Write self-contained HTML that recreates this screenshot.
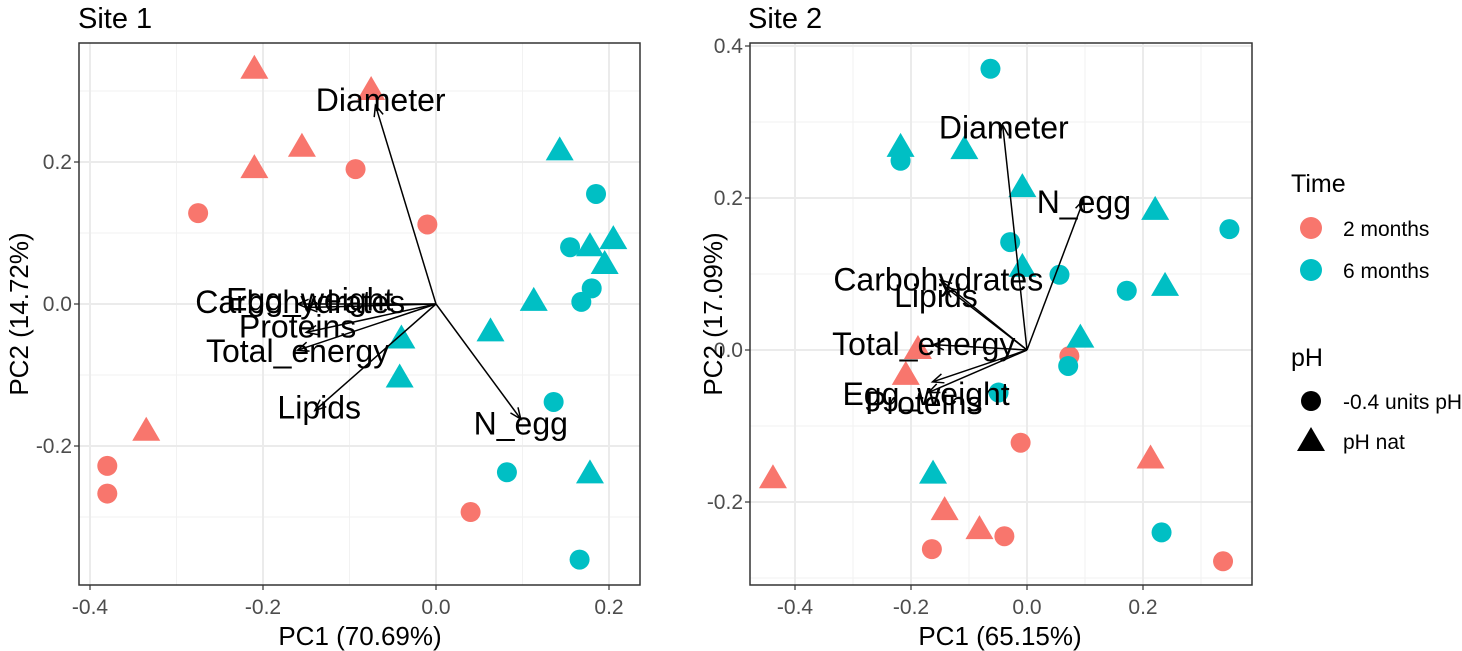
<!DOCTYPE html>
<html><head><meta charset="utf-8"><style>
html,body{margin:0;padding:0;background:#fff;}
svg{display:block;font-family:"Liberation Sans",Arial,sans-serif;}
</style></head><body>
<svg id="chart" width="1462" height="651" viewBox="0 0 1462 651">
<g id="panels"></g>
<text x="78" y="28" font-size="29" fill="#000">Site 1</text>
<text x="748" y="28" font-size="29" fill="#000">Site 2</text>
<text x="360" y="645" font-size="26" text-anchor="middle" fill="#000">PC1 (70.69%)</text>
<text transform="translate(28,314) rotate(-90)" font-size="26" text-anchor="middle" fill="#000">PC2 (14.72%)</text>
<text x="1000" y="645" font-size="26" text-anchor="middle" fill="#000">PC1 (65.15%)</text>
<text transform="translate(722,314) rotate(-90)" font-size="26" text-anchor="middle" fill="#000">PC2 (17.09%)</text>
<g>
<text x="1291" y="192" font-size="25" fill="#000">Time</text>
<circle cx="1311" cy="228" r="11" fill="#F8766D"/>
<text x="1343" y="236" font-size="21" fill="#000">2 months</text>
<circle cx="1311" cy="270" r="11" fill="#00BFC4"/>
<text x="1343" y="278" font-size="21" fill="#000">6 months</text>
<text x="1291" y="366" font-size="25" fill="#000">pH</text>
<circle cx="1311" cy="401" r="10" fill="#000"/>
<text x="1343" y="409" font-size="21" fill="#000">-0.4 units pH</text>
<polygon points="1311,427 1325,451 1297,451" fill="#000"/>
<text x="1343" y="449" font-size="21" fill="#000">pH nat</text>
</g>
</svg>
<script>
// ---------- Site 1 data ----------
const s1RedTriX = [-0.21,-0.075,-0.155,-0.21,-0.335];
const s1RedTriY = [0.33,0.30,0.22,0.19,-0.18];
const s1RedCirX = [-0.275,-0.093,-0.01,-0.38,-0.38,0.04];
const s1RedCirY = [0.128,0.19,0.112,-0.228,-0.267,-0.293];
const s1CyTriX = [0.143,0.178,0.205,0.195,0.113,0.063,-0.04,-0.042,0.178];
const s1CyTriY = [0.215,0.08,0.09,0.055,0.003,-0.04,-0.05,-0.105,-0.24];
const s1CyCirX = [0.185,0.155,0.18,0.168,0.136,0.082,0.166];
const s1CyCirY = [0.155,0.08,0.022,0.003,-0.138,-0.237,-0.36];
const s1VarNames = ["Diameter","N_egg","Lipids","Total_energy","Proteins","Egg_weight","Carbohydrates"];
const s1ArrowX = [-0.07,0.098,-0.14,-0.16,-0.15,-0.15,-0.16];
const s1ArrowY = [0.28,-0.162,-0.15,-0.065,-0.04,-0.005,0.0];
const s1LabelX = [-0.064,0.098,-0.135,-0.160,-0.160,-0.146,-0.157];
const s1LabelY = [0.287,-0.168,-0.146,-0.066,-0.032,0.006,0.003];
const s1XTicks = [-0.4,-0.2,0.0,0.2];
const s1XTickLabels = ["-0.4","-0.2","0.0","0.2"];
const s1XMinor = [-0.3,-0.1,0.1];
const s1YTicks = [-0.2,0.0,0.2];
const s1YTickLabels = ["-0.2","0.0","0.2"];
const s1YMinor = [-0.3,-0.1,0.1,0.3];
// ---------- Site 2 data ----------
const s2RedTriX = [-0.188,-0.209,-0.438,-0.142,-0.082,0.213];
const s2RedTriY = [0.0,-0.034,-0.170,-0.212,-0.237,-0.144];
const s2RedCirX = [0.073,-0.011,-0.164,-0.039,0.338];
const s2RedCirY = [-0.008,-0.122,-0.262,-0.245,-0.278];
const s2CyTriX = [-0.218,-0.108,-0.008,0.221,-0.008,0.238,0.092,-0.162];
const s2CyTriY = [0.266,0.263,0.213,0.183,0.108,0.083,0.015,-0.164];
const s2CyCirX = [-0.063,-0.218,-0.029,0.056,0.172,0.349,0.071,-0.049,0.232];
const s2CyCirY = [0.37,0.249,0.142,0.099,0.078,0.159,-0.021,-0.056,-0.24];
const s2VarNames = ["Diameter","N_egg","Carbohydrates","Lipids","Total_energy","Egg_weight","Proteins"];
const s2ArrowX = [-0.042,0.098,-0.149,-0.141,-0.162,-0.163,-0.170];
const s2ArrowY = [0.296,0.198,0.092,0.083,0.007,-0.042,-0.056];
const s2LabelX = [-0.040,0.098,-0.153,-0.157,-0.178,-0.174,-0.178];
const s2LabelY = [0.293,0.195,0.093,0.071,0.008,-0.058,-0.070];
const s2XTicks = [-0.4,-0.2,0.0,0.2];
const s2XTickLabels = ["-0.4","-0.2","0.0","0.2"];
const s2XMinor = [-0.3,-0.1,0.1,0.3];
const s2YTicks = [-0.2,0.0,0.2,0.4];
const s2YTickLabels = ["-0.2","0.0","0.2","0.4"];
const s2YMinor = [-0.3,-0.1,0.1,0.3];

const NS = "http://www.w3.org/2000/svg";
const host = document.getElementById('panels');
const RED = "#F8766D", CY = "#00BFC4";
function mk(tag, attrs, parent){const e=document.createElementNS(NS,tag);for(const k in attrs)e.setAttribute(k,attrs[k]);(parent||host).appendChild(e);return e;}

function panel(cfg){
  const g = mk('g',{});
  
  
  const sx = v => cfg.x0 + v*cfg.kx;
  const sy = v => cfg.y0 - v*cfg.ky;
  const bg = mk('rect',{x:cfg.L,y:cfg.T,width:cfg.R-cfg.L,height:cfg.B-cfg.T,fill:'#fff'},g);
  
  
  cfg.xMinor.forEach(v=>{const l=mk('line',{x1:sx(v),x2:sx(v),y1:cfg.T,y2:cfg.B,stroke:'#f2f2f2','stroke-width':1},g);
    
    });
  cfg.yMinor.forEach(v=>{const l=mk('line',{x1:cfg.L,x2:cfg.R,y1:sy(v),y2:sy(v),stroke:'#f2f2f2','stroke-width':1},g);
    
    });
  cfg.xTicks.forEach((v,i)=>{const l=mk('line',{x1:sx(v),x2:sx(v),y1:cfg.T,y2:cfg.B,stroke:'#ebebeb','stroke-width':2},g);
    
    
    const t=mk('line',{x1:sx(v),x2:sx(v),y1:cfg.B,y2:cfg.B+5,stroke:'#333','stroke-width':1.2},g);
    
    
    const tx=mk('text',{x:sx(v),y:cfg.B+29,'font-size':21,'text-anchor':'middle',fill:'#4d4d4d'},g);tx.textContent=cfg.xTickLabels[i];
    
    });
  cfg.yTicks.forEach((v,i)=>{const l=mk('line',{x1:cfg.L,x2:cfg.R,y1:sy(v),y2:sy(v),stroke:'#ebebeb','stroke-width':2},g);
    
    
    const t=mk('line',{x1:cfg.L-5,x2:cfg.L,y1:sy(v),y2:sy(v),stroke:'#333','stroke-width':1.2},g);
    
    
    const tx=mk('text',{x:cfg.L-7,y:sy(v)+7,'font-size':21,'text-anchor':'end',fill:'#4d4d4d'},g);tx.textContent=cfg.yTickLabels[i];
    
    });
  function circles(xs,ys,col,nm){xs.forEach((x,i)=>{const c=mk('circle',{cx:sx(x),cy:sy(ys[i]),r:10,fill:col},g);
    
    });}
  function tris(xs,ys,col,nm){xs.forEach((x,i)=>{const X=sx(x),Y=sy(ys[i]);const p=mk('polygon',{points:`${X},${Y-15} ${X+14},${Y+9} ${X-14},${Y+9}`,fill:col},g);
    
    });}
  circles(cfg.rcx,cfg.rcy,RED,'point-2-months-low-ph');
  tris(cfg.rtx,cfg.rty,RED,'point-2-months-ph-nat');
  circles(cfg.ccx,cfg.ccy,CY,'point-6-months-low-ph');
  tris(cfg.ctx,cfg.cty,CY,'point-6-months-ph-nat');
  cfg.ax.forEach((v,i)=>{const x2=sx(v),y2=sy(cfg.ay[i]),x1=sx(0),y1=sy(0);
    const l=mk('line',{x1,y1,x2,y2,stroke:'#000','stroke-width':1.5},g);
    
    
    const a=Math.atan2(y2-y1,x2-x1),h=12;
    const hp=mk('polyline',{points:`${x2-h*Math.cos(a-0.4)},${y2-h*Math.sin(a-0.4)} ${x2},${y2} ${x2-h*Math.cos(a+0.4)},${y2-h*Math.sin(a+0.4)}`,fill:'none',stroke:'#000','stroke-width':1.5},g);
    
    });
  cfg.names.forEach((n,i)=>{const t=mk('text',{x:sx(cfg.lx[i]),y:sy(cfg.ly[i])+11,'font-size':32,'text-anchor':'middle',fill:'#000'},g);t.textContent=n;
    
    });
  const fr=mk('rect',{x:cfg.L,y:cfg.T,width:cfg.R-cfg.L,height:cfg.B-cfg.T,fill:'none',stroke:'#333','stroke-width':1.5},g);
  
  
}
panel({name:'site-1-panel',L:79,R:640,T:43,B:585,x0:436,kx:865,y0:304,ky:710,
  xTicks:s1XTicks,xTickLabels:s1XTickLabels,xMinor:s1XMinor,yTicks:s1YTicks,yTickLabels:s1YTickLabels,yMinor:s1YMinor,
  rtx:s1RedTriX,rty:s1RedTriY,rcx:s1RedCirX,rcy:s1RedCirY,ctx:s1CyTriX,cty:s1CyTriY,ccx:s1CyCirX,ccy:s1CyCirY,
  names:s1VarNames,ax:s1ArrowX,ay:s1ArrowY,lx:s1LabelX,ly:s1LabelY});
panel({name:'site-2-panel',L:750,R:1252,T:43,B:585,x0:1027,kx:580,y0:350,ky:760,
  xTicks:s2XTicks,xTickLabels:s2XTickLabels,xMinor:s2XMinor,yTicks:s2YTicks,yTickLabels:s2YTickLabels,yMinor:s2YMinor,
  rtx:s2RedTriX,rty:s2RedTriY,rcx:s2RedCirX,rcy:s2RedCirY,ctx:s2CyTriX,cty:s2CyTriY,ccx:s2CyCirX,ccy:s2CyCirY,
  names:s2VarNames,ax:s2ArrowX,ay:s2ArrowY,lx:s2LabelX,ly:s2LabelY});
</script>
</body></html>
